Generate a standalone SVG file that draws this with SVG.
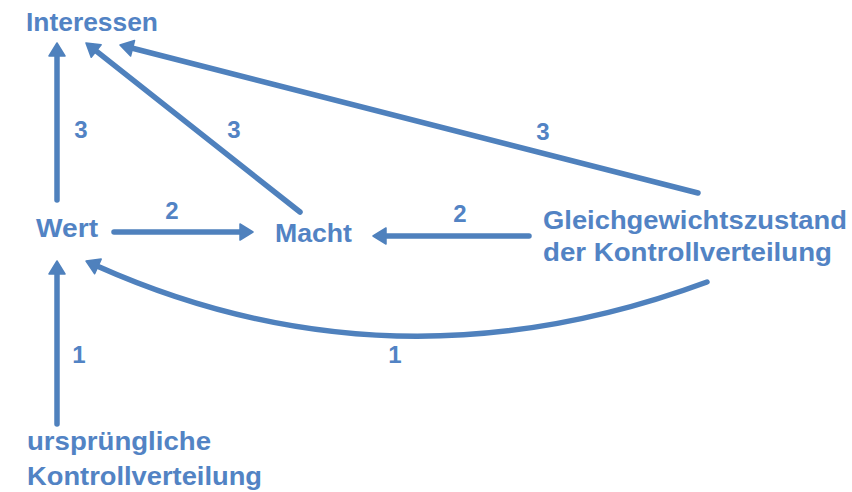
<svg xmlns="http://www.w3.org/2000/svg" width="852" height="492" viewBox="0 0 852 492">
<style>
.t{font-family:"Liberation Sans",Arial,sans-serif;font-weight:bold;font-size:26px;fill:#5283c4}
.n{font-family:"Liberation Sans",Arial,sans-serif;font-weight:bold;font-size:24px;fill:#5283c4;text-anchor:middle}
.c{fill:none;stroke:#4f81bd;stroke-width:5.5;stroke-linecap:round;marker-end:url(#ah)}
</style>
<defs>
<marker id="ah" markerUnits="userSpaceOnUse" markerWidth="20" markerHeight="20" viewBox="-2 -10 18 20" refX="1" refY="0" orient="auto" overflow="visible">
<path d="M0,-8 L13,0 L0,8 z" fill="#4f81bd" stroke="#4f81bd" stroke-width="1.5" stroke-linejoin="round"/>
</marker>
</defs>
<rect width="852" height="492" fill="#ffffff"/>
<g id="connectors">
<path class="c" d="M57,200 L57,55"/>
<path class="c" d="M300,212 L95.4,50.4"/>
<path class="c" d="M698,193 L131.6,48"/>
<path class="c" d="M114,232 L241,232"/>
<path class="c" d="M529,236 L385,236"/>
<path class="c" d="M57,424 L57,273"/>
<path class="c" d="M707,282 Q393,398 97,266"/>
</g>
<g id="labels">
<text class="n" x="81" y="138">3</text>
<text class="n" x="234" y="138">3</text>
<text class="n" x="543" y="140">3</text>
<text class="n" x="172" y="219">2</text>
<text class="n" x="460" y="222">2</text>
<text class="n" x="79" y="363">1</text>
<text class="n" x="395" y="363">1</text>
</g>
<g id="interessen"><text class="t" x="26" y="31" textLength="132" lengthAdjust="spacingAndGlyphs">Interessen</text></g>
<g id="wert"><text class="t" x="36" y="237" textLength="62" lengthAdjust="spacingAndGlyphs">Wert</text></g>
<g id="macht"><text class="t" x="275" y="242" textLength="77" lengthAdjust="spacingAndGlyphs">Macht</text></g>
<g id="gleichgewicht">
<text class="t" x="543" y="229" textLength="304" lengthAdjust="spacingAndGlyphs">Gleichgewichtszustand</text>
<text class="t" x="543" y="261" textLength="289" lengthAdjust="spacingAndGlyphs">der Kontrollverteilung</text>
</g>
<g id="urspruenglich">
<text class="t" x="27" y="450" textLength="184" lengthAdjust="spacingAndGlyphs">ursprüngliche</text>
<text class="t" x="27" y="485" textLength="235" lengthAdjust="spacingAndGlyphs">Kontrollverteilung</text>
</g>
</svg>
